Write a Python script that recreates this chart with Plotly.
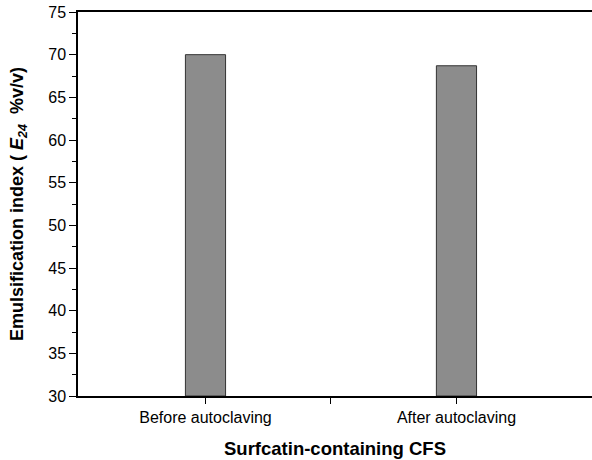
import plotly.graph_objects as go

categories = ["Before autoclaving", "After autoclaving"]
values = [70.0, 68.7]
y_ticks = [30, 35, 40, 45, 50, 55, 60, 65, 70, 75]
y_base = 30

xpos = list(range(len(categories)))

fig = go.Figure()
fig.add_trace(go.Bar(
    x=xpos, y=[v - y_base for v in values], base=y_base, width=0.16,
    marker=dict(color="#8c8c8c", line=dict(color="#333333", width=1)),
    showlegend=False,
))

font = "Liberation Sans, Arial, sans-serif"
fig.update_layout(
    width=592, height=460,
    margin=dict(l=78, r=0, t=12, b=64),
    plot_bgcolor="white", paper_bgcolor="white",
    font=dict(family=font, color="black", size=16),
    xaxis=dict(
        range=[-0.508, 1.54],
        tickvals=xpos,
        ticktext=categories,
        ticks="outside", ticklen=6, tickwidth=1, tickcolor="black",
        minor=dict(tickvals=[0.5], ticks="outside", ticklen=6, tickwidth=1, tickcolor="black", showgrid=False),
        showline=True, linecolor="black", linewidth=1.5, mirror=True,
        showgrid=False, zeroline=False,
        tickfont=dict(size=16),
        title=dict(text="<b>Surfcatin-containing CFS</b>", font=dict(size=18.5), standoff=17),
    ),
    yaxis=dict(
        range=[30, 75],
        tickvals=y_ticks,
        ticks="outside", ticklen=7, tickwidth=1, tickcolor="black",
        minor=dict(dtick=2.5, ticks="outside", ticklen=4, tickcolor="black", showgrid=False),
        showline=True, linecolor="black", linewidth=1.5,
        showgrid=False, zeroline=False,
        tickfont=dict(size=16),
        title=dict(text="<b>Emulsification index ( <i>E</i><sub><i>24</i></sub>  %v/v)</b>", font=dict(size=18), standoff=20),
    ),
)
fig.write_html("out.html")
